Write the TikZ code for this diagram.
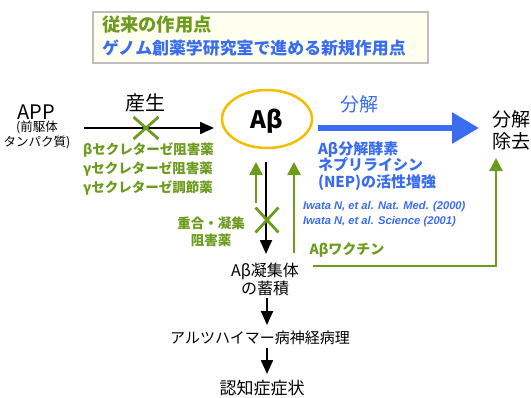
\documentclass[tikz,border=0pt]{standalone}
\usepackage{fontspec}
\setmainfont{Noto Sans CJK JP}
\newfontfamily\citefont{Liberation Sans}
\usetikzlibrary{arrows.meta,shapes.geometric}
\definecolor{grn}{RGB}{108,155,30}
\definecolor{blu}{RGB}{58,108,240}
\definecolor{ylw}{RGB}{242,190,0}
\definecolor{boxgray}{RGB}{190,190,190}
\definecolor{boxfill}{RGB}{255,255,240}
\tikzset{
  fs/.style={font=\fontsize{#1}{#1}\selectfont},
  blkarrow/.style={line width=2.2pt,-{Triangle[length=14pt,width=12pt]}},
  grnarrow/.style={draw=grn,line width=2.6pt,-{Triangle[length=13pt,width=13pt]},color=grn},
  xmark/.style={draw=grn,line width=2.8pt},
  txt/.style={inner sep=0pt,outer sep=0pt},
}
\begin{document}
\begin{tikzpicture}[x=1pt,y=-1pt]
\useasboundingbox (0,0) rectangle (531,397);
% header box
\node (hdr) [draw=boxgray,fill=boxfill,line width=2.5pt,minimum width=335pt,minimum height=51pt,inner sep=0pt] at (260.5,37.5) {};
\node (hdr1) [txt,anchor=west,text=grn,font=\fontsize{18.3}{18}\selectfont\bfseries] at (102,25) {従来の作用点};
\node (hdr2) [txt,anchor=west,text=blu,font=\fontsize{16.9}{18}\selectfont\bfseries] at (102,48) {ゲノム創薬学研究室で進める新規作用点};
% APP
\node (app) [txt,fs=20] at (36,112) {APP};
\node (app2) [txt,fs=12.5] at (37,127.5) {(前駆体};
\node (app3) [txt,fs=12.5] at (37,142) {タンパク質)};
% Abeta
\node (ab) [ellipse,draw=ylw,line width=2.5pt,minimum width=90pt,minimum height=58pt,inner sep=0pt] at (267,119) {};
\node (abt) [txt,font=\fontsize{24}{24}\selectfont\bfseries] at (267,121) {Aβ};
% production arrow
\coordinate (p1) at (84,128);
\coordinate (p2) at (214,128);
\draw[blkarrow] (p1) -- (p2);
\node (prod) [txt,fs=20] at (145,103) {産生};
\coordinate (x1c) at (146,128);
\draw[xmark] ([shift={(-12.5,-11)}]x1c) -- ([shift={(12.5,11)}]x1c);
\draw[xmark] ([shift={(-12.5,11)}]x1c) -- ([shift={(12.5,-11)}]x1c);
\node (sec) [txt,anchor=west,text=grn,align=left,font=\fontsize{13.5}{19}\selectfont\bfseries] at (83,169) {βセクレターゼ阻害薬\\γセクレターゼ阻害薬\\γセクレターゼ調節薬};
% degradation
\coordinate (d1) at (318,128);
\coordinate (d2) at (479,128);
\draw[draw=blu,color=blu,line width=6pt,-{Triangle[length=27pt,width=30pt]}] (d1) -- (d2);
\node (deg) [txt,text=blu,fs=19] at (359,104) {分解};
\node (rem) [txt,align=center,font=\fontsize{19}{22}\selectfont] at (511,130) {分解\\除去};
\node (nep) [txt,anchor=west,text=blu,align=left,font=\fontsize{15}{16.5}\selectfont\bfseries] at (318,166) {Aβ分解酵素\\ネプリライシン\\(NEP)の活性増強};
\node (cite) [txt,anchor=west,text=blu,align=left,font=\citefont\fontsize{11.2}{15}\selectfont\bfseries\itshape] at (303,214.5) {Iwata N, et al. Nat. Med. (2000)\\Iwata N, et al. Science (2001)};
% aggregation
\coordinate (a1) at (266,162);
\coordinate (a2) at (266,254);
\draw[blkarrow] (a1) -- (a2);
\coordinate (x2c) at (267,220);
\draw[xmark] ([shift={(-11.5,-12.5)}]x2c) -- ([shift={(11.5,12.5)}]x2c);
\draw[xmark] ([shift={(-11.5,12.5)}]x2c) -- ([shift={(11.5,-12.5)}]x2c);
\node (agi) [txt,text=grn,align=center,font=\fontsize{13.5}{17}\selectfont\bfseries] at (211,231.5) {重合・凝集\\阻害薬};
\coordinate (g1a) at (256,203);
\coordinate (g1b) at (256,162);
\draw[grnarrow] (g1a) -- (g1b);
\coordinate (g2a) at (294,253);
\coordinate (g2b) at (294,162);
\draw[grnarrow] (g2a) -- (g2b);
\coordinate (g3a) at (313,266);
\coordinate (g3b) at (496,158);
\draw[grnarrow] (g3a) -| (g3b);
\node (vac) [txt,text=grn,font=\fontsize{14}{14}\selectfont\bfseries] at (347,250) {Aβワクチン};
\node (agg) [txt,align=center,font=\fontsize{16}{18}\selectfont] at (265,279) {Aβ凝集体\\の蓄積};
\coordinate (b1) at (267,298);
\coordinate (b2) at (267,325);
\draw[blkarrow] (b1) -- (b2);
\node (path) [txt,fs=15] at (260,338) {アルツハイマー病神経病理};
\coordinate (c1) at (267,348);
\coordinate (c2) at (267,374);
\draw[blkarrow] (c1) -- (c2);
\node (sym) [txt,fs=17] at (262,388) {認知症症状};
\end{tikzpicture}
\end{document}
